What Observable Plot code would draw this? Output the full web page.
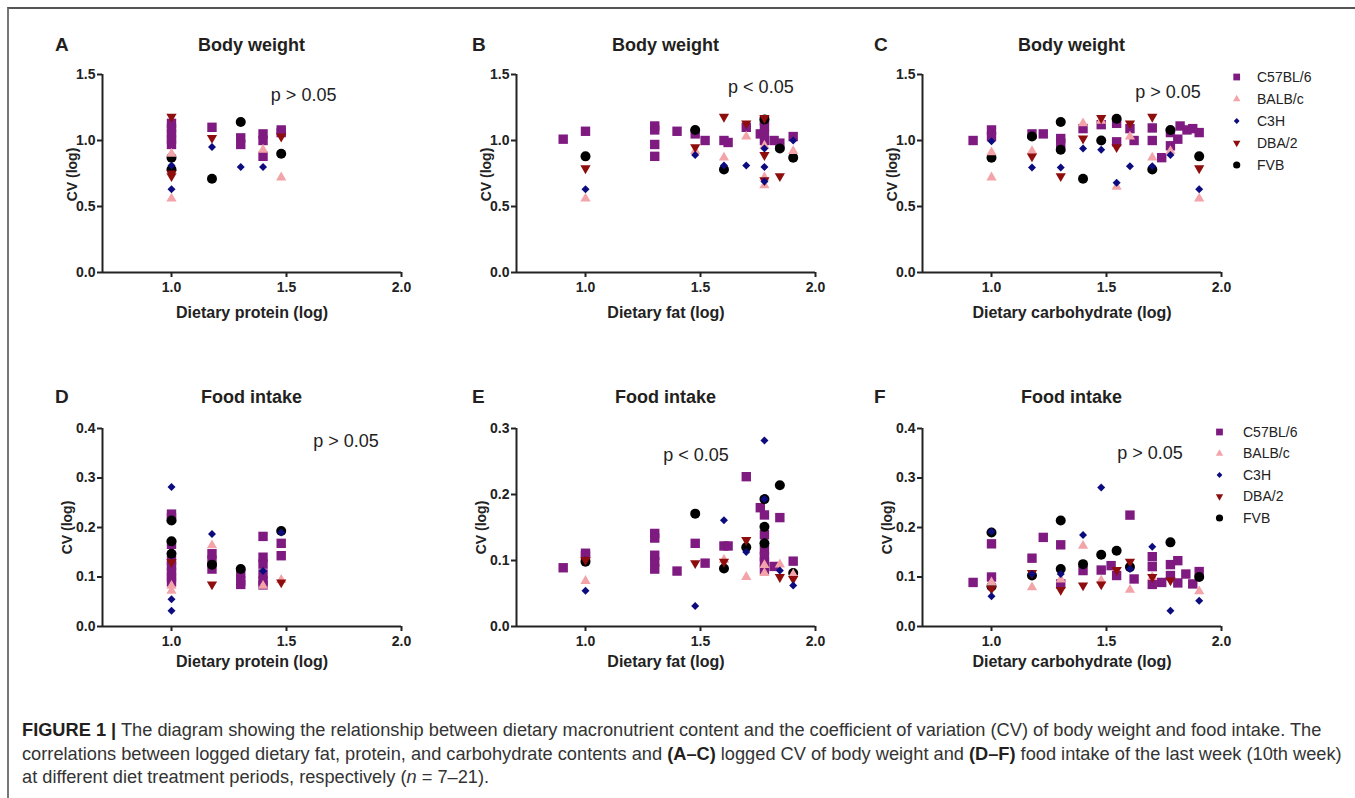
<!DOCTYPE html>
<html><head><meta charset="utf-8">
<script src="https://cdn.jsdelivr.net/npm/d3@7"></script>
<script src="https://cdn.jsdelivr.net/npm/@observablehq/plot@0.6"></script>
<style>
body{margin:0;background:#fff;}
#fig{position:relative;width:1355px;height:798px;overflow:hidden;font-family:"Liberation Sans",Arial,Helvetica,sans-serif;color:#231f20;background:#fff;}
.frame{position:absolute;left:7px;top:7px;width:1400px;height:900px;border-top:2px solid #555;border-left:2px solid #777;}
.lab{position:absolute;font-weight:bold;font-size:18px;line-height:1;white-space:nowrap;transform:translate(-50%,-50%);}
.letter{position:absolute;font-weight:bold;font-size:19px;line-height:1;transform:translate(0,-50%);}
.panel{position:absolute;}
.legend{position:absolute;}
#caption{position:absolute;left:22px;top:718px;font-size:16px;line-height:23.5px;white-space:nowrap;color:#333;}
#caption b{color:#231f20;}
</style></head>
<body>
<div id="fig">
  <div class="frame"></div>
  <div id="caption"><span id="l1"><b>FIGURE 1 |</b> The diagram showing the relationship between dietary macronutrient content and the coefficient of variation (CV) of body weight and food intake. The</span><br>correlations between logged dietary fat, protein, and carbohydrate contents and <b>(A–C)</b> logged CV of body weight and <b>(D–F)</b> food intake of the last week (10th week)<br>at different diet treatment periods, respectively (<i>n</i> = 7–21).</div>
</div>
<script>
// ---------- data (strain, log dietary content, log CV) ----------
const strains = ["C57BL/6", "BALB/c", "C3H", "DBA/2", "FVB"];
const xTicks = [1.0, 1.5, 2.0];
const yTicksBW = [0, 0.5, 1.0, 1.5];
const yTicksFI4 = [0, 0.1, 0.2, 0.3, 0.4];
const yTicksFI3 = [0, 0.1, 0.2, 0.3];
const panelTitles = ["Body weight", "Body weight", "Body weight", "Food intake", "Food intake", "Food intake"];
const panelLetters = ["A", "B", "C", "D", "E", "F"];
const xLabels = ["Dietary protein (log)", "Dietary fat (log)", "Dietary carbohydrate (log)", "Dietary protein (log)", "Dietary fat (log)", "Dietary carbohydrate (log)"];
const pTexts = ["p > 0.05", "p < 0.05", "p > 0.05", "p > 0.05", "p < 0.05", "p > 0.05"];

const bwProtein = [
  ["C57BL/6",1.0,1.13],["C57BL/6",1.0,1.09],["C57BL/6",1.0,1.05],["C57BL/6",1.0,1.01],["C57BL/6",1.0,0.97],
  ["C57BL/6",1.176,1.10],["C57BL/6",1.301,1.02],["C57BL/6",1.301,0.97],["C57BL/6",1.398,1.05],["C57BL/6",1.398,1.00],
  ["C57BL/6",1.398,0.88],["C57BL/6",1.477,1.08],["C57BL/6",1.477,1.06],
  ["BALB/c",1.0,0.90],["BALB/c",1.0,0.56],["BALB/c",1.398,0.93],["BALB/c",1.477,0.72],
  ["C3H",1.0,0.81],["C3H",1.0,0.63],["C3H",1.176,0.95],["C3H",1.301,0.80],["C3H",1.398,0.80],
  ["DBA/2",1.0,1.18],["DBA/2",1.0,0.75],["DBA/2",1.0,0.73],["DBA/2",1.176,1.02],["DBA/2",1.477,1.03],
  ["FVB",1.0,0.87],["FVB",1.0,0.78],["FVB",1.176,0.71],["FVB",1.301,1.14],["FVB",1.477,0.90]
];
const bwFat = [
  ["C57BL/6",0.903,1.01],["C57BL/6",1.0,1.07],["C57BL/6",1.301,1.11],["C57BL/6",1.301,1.08],["C57BL/6",1.301,0.97],
  ["C57BL/6",1.301,0.88],["C57BL/6",1.398,1.07],["C57BL/6",1.477,1.05],["C57BL/6",1.52,1.00],["C57BL/6",1.602,1.00],
  ["C57BL/6",1.62,0.985],["C57BL/6",1.699,1.10],["C57BL/6",1.76,1.05],["C57BL/6",1.778,1.15],["C57BL/6",1.778,1.10],
  ["C57BL/6",1.778,1.05],["C57BL/6",1.778,1.00],["C57BL/6",1.82,1.00],["C57BL/6",1.845,0.98],["C57BL/6",1.903,1.03],
  ["BALB/c",1.0,0.56],["BALB/c",1.477,0.92],["BALB/c",1.602,0.87],["BALB/c",1.699,1.03],["BALB/c",1.778,0.96],
  ["BALB/c",1.778,0.72],["BALB/c",1.778,0.66],["BALB/c",1.903,0.92],
  ["C3H",1.0,0.63],["C3H",1.477,0.89],["C3H",1.602,0.81],["C3H",1.699,0.81],["C3H",1.778,0.94],
  ["C3H",1.778,0.80],["C3H",1.778,0.69],["C3H",1.903,1.00],
  ["DBA/2",1.0,0.79],["DBA/2",1.477,0.95],["DBA/2",1.602,1.18],["DBA/2",1.699,1.13],["DBA/2",1.778,1.17],
  ["DBA/2",1.778,0.89],["DBA/2",1.778,0.70],["DBA/2",1.845,0.73],
  ["FVB",1.0,0.88],["FVB",1.477,1.08],["FVB",1.602,0.78],["FVB",1.778,1.16],["FVB",1.845,0.94],["FVB",1.903,0.87]
];
const bwCarb = [
  ["C57BL/6",0.92,1.00],["C57BL/6",1.0,1.08],["C57BL/6",1.0,1.03],["C57BL/6",1.176,1.05],["C57BL/6",1.225,1.05],
  ["C57BL/6",1.301,1.015],["C57BL/6",1.301,0.98],["C57BL/6",1.398,1.09],["C57BL/6",1.477,1.12],["C57BL/6",1.544,1.13],
  ["C57BL/6",1.544,0.99],["C57BL/6",1.602,1.09],["C57BL/6",1.62,1.00],["C57BL/6",1.699,1.095],["C57BL/6",1.699,1.00],
  ["C57BL/6",1.74,0.87],["C57BL/6",1.778,1.06],["C57BL/6",1.778,0.96],["C57BL/6",1.81,1.01],["C57BL/6",1.82,1.11],
  ["C57BL/6",1.85,1.08],["C57BL/6",1.875,1.09],["C57BL/6",1.903,1.06],
  ["BALB/c",1.0,0.91],["BALB/c",1.0,0.72],["BALB/c",1.176,0.92],["BALB/c",1.398,1.13],["BALB/c",1.477,1.15],
  ["BALB/c",1.544,0.65],["BALB/c",1.602,1.03],["BALB/c",1.699,0.87],["BALB/c",1.778,0.92],["BALB/c",1.903,0.56],
  ["C3H",1.0,0.995],["C3H",1.176,0.795],["C3H",1.301,0.795],["C3H",1.398,0.94],["C3H",1.477,0.93],
  ["C3H",1.544,0.68],["C3H",1.602,0.805],["C3H",1.699,0.805],["C3H",1.778,0.89],["C3H",1.903,0.63],
  ["DBA/2",1.176,0.88],["DBA/2",1.301,0.73],["DBA/2",1.398,1.015],["DBA/2",1.477,1.17],["DBA/2",1.544,0.95],
  ["DBA/2",1.602,1.13],["DBA/2",1.699,1.18],["DBA/2",1.903,0.79],
  ["FVB",1.0,0.87],["FVB",1.176,1.03],["FVB",1.301,1.14],["FVB",1.301,0.93],["FVB",1.398,0.71],
  ["FVB",1.477,1.00],["FVB",1.544,1.165],["FVB",1.699,0.78],["FVB",1.778,1.08],["FVB",1.903,0.88]
];
const fiProtein = [
  ["C57BL/6",1.0,0.227],["C57BL/6",1.0,0.22],["C57BL/6",1.0,0.166],["C57BL/6",1.0,0.133],["C57BL/6",1.0,0.122],
  ["C57BL/6",1.0,0.11],["C57BL/6",1.0,0.10],["C57BL/6",1.0,0.09],["C57BL/6",1.176,0.147],["C57BL/6",1.176,0.134],
  ["C57BL/6",1.176,0.116],["C57BL/6",1.301,0.107],["C57BL/6",1.301,0.092],["C57BL/6",1.301,0.085],["C57BL/6",1.398,0.182],
  ["C57BL/6",1.398,0.14],["C57BL/6",1.398,0.126],["C57BL/6",1.398,0.106],["C57BL/6",1.398,0.092],["C57BL/6",1.398,0.084],
  ["C57BL/6",1.477,0.168],["C57BL/6",1.477,0.143],
  ["BALB/c",1.0,0.082],["BALB/c",1.0,0.072],["BALB/c",1.176,0.164],["BALB/c",1.398,0.082],["BALB/c",1.477,0.094],
  ["C3H",1.0,0.282],["C3H",1.0,0.055],["C3H",1.0,0.032],["C3H",1.176,0.187],["C3H",1.398,0.112],["C3H",1.477,0.19],
  ["DBA/2",1.0,0.13],["DBA/2",1.176,0.085],["DBA/2",1.477,0.089],
  ["FVB",1.0,0.214],["FVB",1.0,0.172],["FVB",1.0,0.147],["FVB",1.176,0.125],["FVB",1.301,0.116],["FVB",1.477,0.193]
];
const fiFat = [
  ["C57BL/6",0.903,0.089],["C57BL/6",1.0,0.111],["C57BL/6",1.0,0.107],["C57BL/6",1.301,0.141],["C57BL/6",1.301,0.134],
  ["C57BL/6",1.301,0.108],["C57BL/6",1.301,0.098],["C57BL/6",1.301,0.087],["C57BL/6",1.398,0.084],["C57BL/6",1.477,0.126],
  ["C57BL/6",1.52,0.096],["C57BL/6",1.602,0.122],["C57BL/6",1.62,0.122],["C57BL/6",1.699,0.227],["C57BL/6",1.76,0.18],
  ["C57BL/6",1.778,0.169],["C57BL/6",1.778,0.139],["C57BL/6",1.778,0.116],["C57BL/6",1.778,0.106],["C57BL/6",1.778,0.098],
  ["C57BL/6",1.778,0.086],["C57BL/6",1.82,0.091],["C57BL/6",1.845,0.165],["C57BL/6",1.903,0.099],
  ["BALB/c",1.0,0.069],["BALB/c",1.602,0.101],["BALB/c",1.699,0.075],["BALB/c",1.778,0.093],["BALB/c",1.778,0.081],
  ["BALB/c",1.845,0.094],["BALB/c",1.903,0.079],
  ["C3H",1.0,0.054],["C3H",1.477,0.031],["C3H",1.602,0.161],["C3H",1.699,0.113],["C3H",1.778,0.282],
  ["C3H",1.778,0.193],["C3H",1.845,0.085],["C3H",1.903,0.062],
  ["DBA/2",1.0,0.101],["DBA/2",1.477,0.096],["DBA/2",1.602,0.098],["DBA/2",1.699,0.131],["DBA/2",1.845,0.075],["DBA/2",1.903,0.072],
  ["FVB",1.0,0.098],["FVB",1.477,0.171],["FVB",1.602,0.088],["FVB",1.699,0.12],["FVB",1.778,0.193],
  ["FVB",1.778,0.151],["FVB",1.778,0.126],["FVB",1.845,0.214],["FVB",1.903,0.081]
];
const fiCarb = [
  ["C57BL/6",0.92,0.089],["C57BL/6",1.0,0.167],["C57BL/6",1.0,0.10],["C57BL/6",1.176,0.138],["C57BL/6",1.225,0.18],
  ["C57BL/6",1.301,0.165],["C57BL/6",1.301,0.086],["C57BL/6",1.398,0.113],["C57BL/6",1.477,0.114],["C57BL/6",1.52,0.123],
  ["C57BL/6",1.544,0.103],["C57BL/6",1.602,0.225],["C57BL/6",1.62,0.096],["C57BL/6",1.699,0.141],["C57BL/6",1.699,0.121],
  ["C57BL/6",1.699,0.085],["C57BL/6",1.74,0.089],["C57BL/6",1.778,0.125],["C57BL/6",1.778,0.103],["C57BL/6",1.81,0.133],
  ["C57BL/6",1.81,0.088],["C57BL/6",1.845,0.106],["C57BL/6",1.875,0.086],["C57BL/6",1.903,0.111],
  ["BALB/c",1.0,0.089],["BALB/c",1.176,0.079],["BALB/c",1.301,0.095],["BALB/c",1.398,0.163],["BALB/c",1.477,0.093],
  ["BALB/c",1.602,0.074],["BALB/c",1.699,0.10],["BALB/c",1.903,0.071],
  ["C3H",1.0,0.192],["C3H",1.0,0.061],["C3H",1.176,0.106],["C3H",1.301,0.106],["C3H",1.398,0.185],
  ["C3H",1.477,0.281],["C3H",1.602,0.116],["C3H",1.699,0.161],["C3H",1.778,0.032],["C3H",1.903,0.052],
  ["DBA/2",1.0,0.076],["DBA/2",1.176,0.108],["DBA/2",1.301,0.074],["DBA/2",1.398,0.083],["DBA/2",1.477,0.085],
  ["DBA/2",1.544,0.114],["DBA/2",1.602,0.131],["DBA/2",1.699,0.10],["DBA/2",1.778,0.093],
  ["FVB",1.0,0.19],["FVB",1.0,0.081],["FVB",1.176,0.103],["FVB",1.301,0.214],["FVB",1.301,0.116],
  ["FVB",1.398,0.126],["FVB",1.477,0.145],["FVB",1.544,0.153],["FVB",1.602,0.12],["FVB",1.778,0.17],["FVB",1.903,0.1]
];

// ---------- styling ----------
const FONT = '"Liberation Sans", Arial, Helvetica, sans-serif';
const sqrt3 = Math.sqrt(3);
const triangleDown = {
  draw(ctx, size) {
    const y = -Math.sqrt(size / (sqrt3 * 3));
    ctx.moveTo(0, -y * 2);
    ctx.lineTo(-sqrt3 * y, y);
    ctx.lineTo(sqrt3 * y, y);
    ctx.closePath();
  }
};
const strainStyle = {
  "C57BL/6": {symbol: d3.symbolSquare, r: 5.3, fill: "#7e1a80"},
  "BALB/c": {symbol: d3.symbolTriangle, r: 3.8, fill: "#f3a4a9"},
  "C3H": {symbol: d3.symbolDiamond2, r: 3.6, fill: "#0c0c7e"},
  "DBA/2": {symbol: triangleDown, r: 3.8, fill: "#8e0e0e"},
  "FVB": {symbol: d3.symbolCircle, r: 5.0, fill: "#000000"}
};
const drawOrder = ["C57BL/6", "FVB", "BALB/c", "DBA/2", "C3H"];

const ML = 72, MR = 14, MT = 14, MB = 56;
const FW = 299, FH = 198;
const colLeft = [102, 516, 922];
const rowTop = [74, 428];

const panels = [
  {data: bwProtein, yMax: 1.5, yTicks: yTicksBW, p: [1.432, 1.343]},
  {data: bwFat, yMax: 1.5, yTicks: yTicksBW, p: [1.62, 1.40]},
  {data: bwCarb, yMax: 1.5, yTicks: yTicksBW, p: [1.625, 1.365]},
  {data: fiProtein, yMax: 0.4, yTicks: yTicksFI4, p: [1.616, 0.375]},
  {data: fiFat, yMax: 0.3, yTicks: yTicksFI3, p: [1.338, 0.26]},
  {data: fiCarb, yMax: 0.4, yTicks: yTicksFI4, p: [1.547, 0.351]}
];

const fig = document.getElementById("fig");
const fmt = d3.format(".1f");

panels.forEach((pn, i) => {
  const col = i % 3, row = Math.floor(i / 3);
  const FL = colLeft[col], FT = rowTop[row];
  const marks = [
    Plot.axisX({ticks: xTicks, tickFormat: fmt, tickSize: 5, tickPadding: 5, strokeWidth: 2, stroke: "#222", label: null, fontSize: 14}),
    Plot.axisY({ticks: pn.yTicks, tickFormat: fmt, tickSize: 5, tickPadding: 2, strokeWidth: 2, stroke: "#222", label: null, fontSize: 14}),
    Plot.ruleY([0], {stroke: "#222", strokeWidth: 2}),
    Plot.ruleX([0.7], {stroke: "#222", strokeWidth: 2}),
    ...drawOrder.map(s => Plot.dot(pn.data.filter(d => d[0] === s), {
      x: d => d[1], y: d => d[2],
      symbol: strainStyle[s].symbol, r: strainStyle[s].r,
      fill: strainStyle[s].fill, stroke: "none"
    })),
    Plot.text([{x: pn.p[0], y: pn.p[1], t: pTexts[i]}], {x: "x", y: "y", text: "t", textAnchor: "start", fontSize: 18, fontWeight: "normal", fill: "#222"}),
    Plot.text([xLabels[i]], {text: d => d, frameAnchor: "bottom", textAnchor: "middle", lineAnchor: "middle", dy: row === 0 ? 40 : 35, fontSize: 16, fill: "#222"}),
    Plot.text(["CV (log)"], {text: d => d, frameAnchor: "left", textAnchor: "middle", lineAnchor: "middle", dx: row === 0 ? -30 : -35, dy: row === 0 ? 1 : 0, rotate: -90, fontSize: 14, fill: "#222"})
  ];
  const svg = Plot.plot({
    width: FW + ML + MR, height: FH + MT + MB,
    marginLeft: ML, marginRight: MR, marginTop: MT, marginBottom: MB,
    style: {fontFamily: FONT, fontSize: "14px", fontWeight: "bold", color: "#222", background: "transparent", overflow: "visible"},
    x: {domain: [0.7, 2.0]},
    y: {domain: [0, pn.yMax]},
    marks
  });
  const wrap = document.createElement("div");
  wrap.className = "panel";
  wrap.style.left = (FL - ML) + "px";
  wrap.style.top = (FT - MT) + "px";
  wrap.appendChild(svg);
  fig.appendChild(wrap);

  const t = document.createElement("div");
  t.className = "lab";
  t.textContent = panelTitles[i];
  t.style.left = (FL + FW / 2) + "px";
  t.style.top = (FT - (row === 0 ? 29 : 31)) + "px";
  fig.appendChild(t);

  const L = document.createElement("div");
  L.className = "letter";
  L.textContent = panelLetters[i];
  L.style.left = [55, 472, 874][col] + "px";
  L.style.top = (FT - (row === 0 ? 30 : 32)) + "px";
  fig.appendChild(L);
});

// ---------- legends ----------
function legend(left, top, markerX, textX, rowY, gap) {
  const svg = d3.create("svg").attr("width", 140).attr("height", 130)
    .style("position", "absolute").style("left", left + "px").style("top", top + "px")
    .style("font-family", FONT).style("font-size", "14px");
  strains.forEach((s, k) => {
    const st = strainStyle[s];
    const y = rowY + k * gap;
    svg.append("path")
      .attr("d", d3.symbol(st.symbol, Math.PI * (st.r * 0.72) ** 2)())
      .attr("transform", `translate(${markerX},${y})`)
      .attr("fill", st.fill);
    svg.append("text").attr("x", textX).attr("y", y).attr("dy", "0.35em")
      .attr("fill", "#222").text(s);
  });
  fig.appendChild(svg.node());
}
legend(1222, 60, 14.7, 35, 17, 22);
legend(1205, 415, 14.5, 38, 17, 21.5);

// ---------- caption fitting ----------
const cap = document.getElementById("caption");
const w = document.getElementById("l1").getBoundingClientRect().width;
cap.style.fontSize = (16 * 1300 / w).toFixed(2) + "px";
</script>
</body></html>
